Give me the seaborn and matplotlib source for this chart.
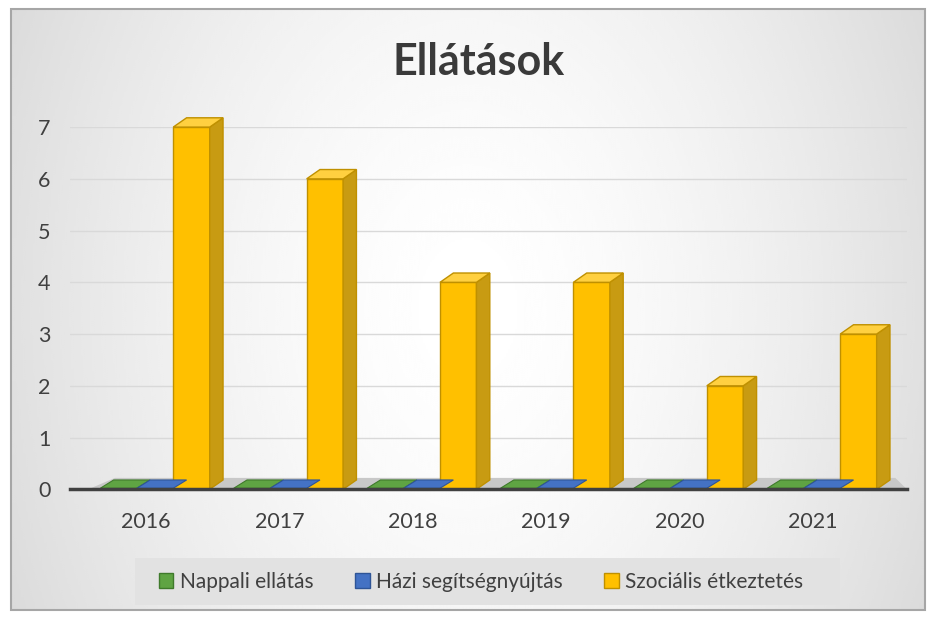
import numpy as np
import pandas as pd
import matplotlib
matplotlib.use("Agg")
import matplotlib.pyplot as plt
import matplotlib.transforms as mtransforms
from matplotlib.patches import Polygon, Rectangle
import seaborn as sns

years = ["2016", "2017", "2018", "2019", "2020", "2021"]
series_names = ["Nappali ellátás", "Házi segítségnyújtás", "Szociális étkeztetés"]
nappali = [0, 0, 0, 0, 0, 0]
hazi = [0, 0, 0, 0, 0, 0]
szocialis = [7, 6, 4, 4, 2, 3]
y_ticks = [0, 1, 2, 3, 4, 5, 6, 7]

colors = ["#5fa443", "#4472c4", "#ffc000"]
edge_colors = ["#3f7a2b", "#2f5597", "#bf9000"]

df = pd.DataFrame({
    "Év": years * 3,
    "Sorozat": sum([[s] * len(years) for s in series_names], []),
    "Érték": nappali + hazi + szocialis,
})

sns.set_theme(style="white")
plt.rcParams["font.family"] = ["Lato", "DejaVu Sans"]

fig = plt.figure(figsize=(9.34, 6.17), dpi=100)

# background gradient and frame
bg = fig.add_axes([0, 0, 1, 1], zorder=-10)
xx = np.linspace(-1, 1, 400)
yy = np.linspace(-1, 1, 300)
X, Y = np.meshgrid(xx, yy)
R = np.sqrt((X * 0.95) ** 2 + (Y * 0.45) ** 2)
grad = 1.0 - 0.13 * np.clip(R, 0, 1.3) ** 1.6
bg.imshow(grad, cmap="gray", vmin=0, vmax=1, extent=[0.012, 0.99, 0.012, 0.985],
          aspect="auto", interpolation="bicubic")
bg.add_patch(Rectangle((0.012, 0.012), 0.978, 0.973, fill=False, ec="#a6a6a6", lw=1.5,
                       transform=bg.transAxes))
# legend backdrop
bg.add_patch(Rectangle((0.1445, 0.019), 0.7545, 0.077, fc="#e2e2e2", ec="none",
                       transform=bg.transAxes))
bg.set_xlim(0, 1)
bg.set_ylim(0, 1)
bg.axis("off")

ax = fig.add_axes([0.075, 0.207, 0.896, 0.587])
ax.patch.set_alpha(0)
sns.barplot(data=df, x="Év", y="Érték", hue="Sorozat", palette=colors,
            width=0.82, ax=ax, saturation=1, legend=True, zorder=3)

ax.set_ylim(0, 7)
ax.set_yticks(y_ticks)
ax.set_xlim(-0.637, 5.637)

# floor
floor = Polygon([(-0.5, 0), (5.637, 0), (5.55, 0.22), (-0.3, 0.22)], closed=True,
                fc="#c8c8c8", ec="none", zorder=1)
ax.add_patch(floor)

dx, dy = 0.1, 0.18
for container, ec in zip(ax.containers, edge_colors):
    for bar in container:
        bar.set_edgecolor(ec)
        bar.set_linewidth(1.0)
        bar.set_clip_on(False)
        x0 = bar.get_x()
        w = bar.get_width()
        h = bar.get_height()
        if h > 0:
            side = Polygon([(x0 + w, 0), (x0 + w + dx, dy), (x0 + w + dx, h + dy), (x0 + w, h)],
                           closed=True, fc="#c89b12", ec=ec, lw=1.0, zorder=3, clip_on=False)
            top = Polygon([(x0, h), (x0 + w, h), (x0 + w + dx, h + dy), (x0 + dx, h + dy)],
                          closed=True, fc="#ffd040", ec=ec, lw=1.0, zorder=3, clip_on=False)
            ax.add_patch(side)
            ax.add_patch(top)
        else:
            flat = Polygon([(x0, 0.02), (x0 + w, 0.02), (x0 + w + dx, dy), (x0 + dx, dy)],
                           closed=True, fc=bar.get_facecolor(), ec=ec, lw=0.8, zorder=3)
            ax.add_patch(flat)

ax.grid(axis="y", color="#d9d9d9", lw=1, zorder=0)
for s in ["left", "right", "top"]:
    ax.spines[s].set_visible(False)
ax.spines["bottom"].set_color("#404040")
ax.spines["bottom"].set_linewidth(2.5)
ax.spines["bottom"].set_zorder(5)
ax.set_xlabel("")
ax.set_ylabel("")
ax.tick_params(axis="both", length=0, labelsize=15.5, labelcolor="#404040")
ax.tick_params(axis="x", pad=16)
ax.tick_params(axis="y", pad=14)

shift = mtransforms.ScaledTranslation(-9 / 100, 0, fig.dpi_scale_trans)
for lab in ax.get_xticklabels():
    lab.set_transform(lab.get_transform() + shift)

handles, labels = ax.get_legend_handles_labels()
ax.get_legend().remove()
for h, ec in zip(handles, edge_colors):
    h.set_edgecolor(ec)
leg = fig.legend(handles, labels, loc="center", bbox_to_anchor=(0.515, 0.057), ncol=3,
                 frameon=False, fontsize=15, handlelength=0.7, handleheight=0.7,
                 handletextpad=0.3, columnspacing=2.0)
for t in leg.get_texts():
    t.set_color("#404040")

fig.text(0.512, 0.9, "Ellátások", ha="center", va="center", fontsize=31,
         fontweight="bold", color="#3a3a3a")

fig.savefig("out.png", dpi=100)
